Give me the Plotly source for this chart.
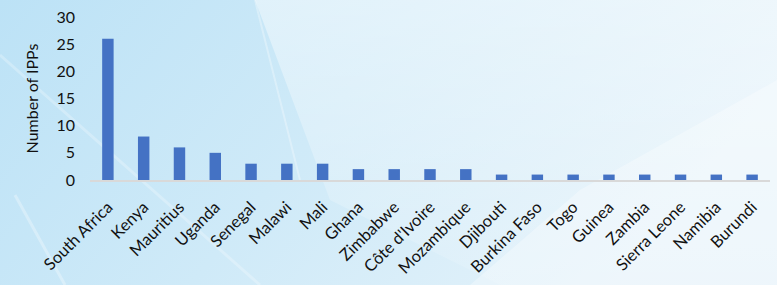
import base64
import plotly.graph_objects as go

countries = ["South Africa", "Kenya", "Mauritius", "Uganda", "Senegal", "Malawi", "Mali",
             "Ghana", "Zimbabwe", "Côte d'Ivoire", "Mozambique", "Djibouti", "Burkina Faso",
             "Togo", "Guinea", "Zambia", "Sierra Leone", "Namibia", "Burundi"]
ipps = [26, 8, 6, 5, 3, 3, 3, 2, 2, 2, 2, 1, 1, 1, 1, 1, 1, 1, 1]
y_ticks = [0, 5, 10, 15, 20, 25, 30]

W, H = 777, 285
L, R, T, B = 90, 7, 17, 105
PW, PH = W - L - R, H - T - B

svg = f'''<svg xmlns="http://www.w3.org/2000/svg" width="{W}" height="{H}" viewBox="0 0 {W} {H}" preserveAspectRatio="none">
<defs>
<linearGradient id="g" x1="0" y1="0" x2="1" y2="0.3">
<stop offset="0" stop-color="#bce2f6"/>
<stop offset="0.5" stop-color="#cfeaf8"/>
<stop offset="1" stop-color="#e4f2fa"/>
</linearGradient>
<linearGradient id="w" x1="0" y1="0" x2="0" y2="1">
<stop offset="0" stop-color="#ffffff" stop-opacity="0.45"/>
<stop offset="1" stop-color="#ffffff" stop-opacity="0.1"/>
</linearGradient>
</defs>
<rect x="0" y="0" width="{W}" height="{H}" fill="url(#g)"/>
<polygon points="255,0 777,0 777,285 500,285 330,200" fill="url(#w)"/>
<polygon points="580,190 777,80 777,285 470,285" fill="#ffffff" fill-opacity="0.3"/>
<line x1="0" y1="55" x2="260" y2="285" stroke="#ffffff" stroke-opacity="0.25" stroke-width="3"/>
<line x1="15" y1="195" x2="65" y2="285" stroke="#ffffff" stroke-opacity="0.3" stroke-width="3"/>
<line x1="255" y1="0" x2="300" y2="180" stroke="#ffffff" stroke-opacity="0.3" stroke-width="2"/>
</svg>'''
src = "data:image/svg+xml;base64," + base64.b64encode(svg.encode()).decode()

fig = go.Figure(go.Bar(x=countries, y=ipps, marker_color="#4472c4", marker_line_width=0))

fig.update_layout(
    width=W, height=H,
    margin=dict(l=L, r=R, t=T, b=B, autoexpand=False),
    paper_bgcolor="#d6edf8",
    plot_bgcolor="rgba(0,0,0,0)",
    bargap=0.68,
    showlegend=False,
    font=dict(family="Lato, Open Sans, sans-serif", color="#111111"),
    images=[dict(source=src, xref="paper", yref="paper",
                 x=-L / PW, y=1 + T / PH, sizex=W / PW, sizey=H / PH,
                 xanchor="left", yanchor="top", sizing="stretch", layer="below")],
)
fig.update_xaxes(tickangle=-45, tickfont=dict(size=16.5), showline=True, linecolor="#d9d9d9",
                 linewidth=2, ticks="", ticklabelstandoff=9, showgrid=False, fixedrange=True,
                 automargin=False)
fig.update_yaxes(range=[0, 30], tickvals=y_ticks, tickfont=dict(size=16), showgrid=False,
                 zeroline=False, showline=False, ticks="", ticklabelstandoff=14, automargin=False,
                 title=dict(text="Number of IPPs", font=dict(size=16), standoff=13))

fig.write_html("out.html", config={"displayModeBar": False},
               post_script="document.body.style.margin='0';document.body.style.overflow='hidden';")
